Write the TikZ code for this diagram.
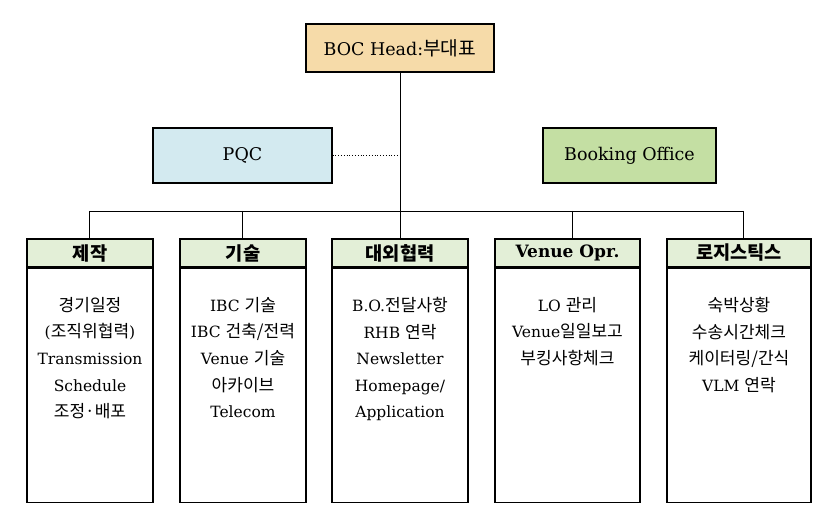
\documentclass[tikz,border=0pt]{standalone}
\usepackage{fontspec}
\setmainfont{DejaVu Serif}
\newfontfamily\krf[Scale=1.1]{Noto Sans CJK KR}
\newcommand\kr[1]{{\krf #1}}
\definecolor{bocfill}{HTML}{F6DBA9}
\definecolor{pqcfill}{HTML}{D3EAF0}
\definecolor{bookfill}{HTML}{C4DFA3}
\definecolor{hdrfill}{HTML}{E3EFD7}
\tikzset{
  topbox/.style={draw, line width=1.1pt, inner sep=0pt, font={\fontsize{17.5pt}{20pt}\selectfont}},
  hdrbox/.style={draw, line width=1.1pt, fill=hdrfill, inner sep=0pt, minimum height=28pt, font={\fontsize{17pt}{20pt}\selectfont\bfseries}},
  bodybox/.style={draw, line width=1.1pt, inner sep=0pt, minimum height=234pt},
  bodytext/.style={anchor=north, inner sep=0pt, align=center, font={\fontsize{15.5pt}{26.6pt}\selectfont}},
  conn/.style={line width=0.8pt}
}
\begin{document}
\begin{tikzpicture}[x=1pt,y=-1pt]
\fill[white] (0,0) rectangle (837,526);
\useasboundingbox (0,0) rectangle (837,526);

\node[topbox, fill=bocfill, minimum width=188pt, minimum height=48pt] (boc) at (400,48) {BOC Head:\kr{부대표}};
\node[topbox, fill=pqcfill, minimum width=179pt, minimum height=55pt] (pqc) at (242.5,155.5) {PQC};
\node[topbox, fill=bookfill, minimum width=173pt, minimum height=55pt] (book) at (629.5,155.5) {Booking Office};

% columns
\node[hdrbox, minimum width=126pt] (h1) at (90,253) {\kr{제작}};
\node[hdrbox, minimum width=126pt] (h2) at (243,253) {\kr{기술}};
\node[hdrbox, minimum width=136pt] (h3) at (400,253) {\kr{대외협력}};
\node[hdrbox, minimum width=145pt] (h4) at (567.5,253) {Venue Opr.};
\node[hdrbox, minimum width=144pt] (h5) at (739,253) {\kr{로지스틱스}};

\node[bodybox, minimum width=126pt, anchor=north] (b1) at (h1.south) {};
\node[bodybox, minimum width=126pt, anchor=north] (b2) at (h2.south) {};
\node[bodybox, minimum width=136pt, anchor=north] (b3) at (h3.south) {};
\node[bodybox, minimum width=145pt, anchor=north] (b4) at (h4.south) {};
\node[bodybox, minimum width=144pt, anchor=north] (b5) at (h5.south) {};

\node[bodytext] (t1) at (90,297) {\kr{경기일정}\\(\kr{조직위협력})\\Transmission\\Schedule\\\kr{조정·배포}};
\node[bodytext] (t2) at (243,297) {IBC \kr{기술}\\IBC \kr{건축/전력}\\Venue \kr{기술}\\\kr{아카이브}\\Telecom};
\node[bodytext] (t3) at (400,297) {B.O.\kr{전달사항}\\RHB \kr{연락}\\Newsletter\\Homepage/\\Application};
\node[bodytext] (t4) at (567.5,297) {LO \kr{관리}\\Venue\kr{일일보고}\\\kr{부킹사항체크}};
\node[bodytext] (t5) at (739,297) {\kr{숙박상황}\\\kr{수송시간체크}\\\kr{케이터링/간식}\\VLM \kr{연락}};

% connectors
\coordinate (v1) at (89,211);
\coordinate (v2) at (242,211);
\coordinate (v3) at (400,211);
\coordinate (v4) at (572,211);
\coordinate (v5) at (743,211);
\draw[conn] (boc.south) -- (v3);
\draw[conn] (v1) -- (v5);
\draw[conn] (v1) -- (v1 |- h1.north);
\draw[conn] (v2) -- (v2 |- h2.north);
\draw[conn] (v3) -- (h3.north);
\draw[conn] (v4) -- (v4 |- h4.north);
\draw[conn] (v5) -- (v5 |- h5.north);
\draw[conn, dotted] (pqc.east) -- (pqc.east -| boc.south);
\end{tikzpicture}
\end{document}
